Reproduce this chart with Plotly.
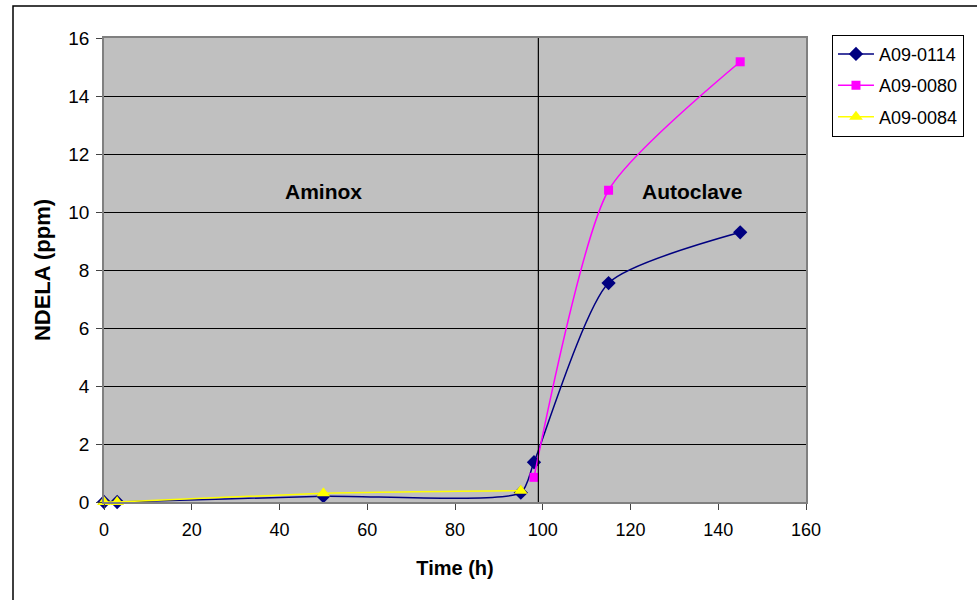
import plotly.graph_objects as go

# Sampling times (h) and NDELA concentrations (ppm) for each sample
time_0114 = [0, 3, 50, 95, 98, 115, 145]
ndela_0114 = [0.0, 0.0, 0.2, 0.32, 1.37, 7.55, 9.3]

time_0080 = [98, 115, 145]
ndela_0080 = [0.85, 10.75, 15.18]

time_0084 = [0, 3, 50, 95]
ndela_0084 = [0.0, 0.0, 0.3, 0.39]

series_names = ["A09-0114", "A09-0080", "A09-0084"]

# Switch from Aminox to Autoclave phase (h)
phase_switch = 99
phase_labels = ["Aminox", "Autoclave"]
phase_label_x = [50, 134]
phase_label_y = 10.7

x_ticks = [0, 20, 40, 60, 80, 100, 120, 140, 160]
y_ticks = [0, 2, 4, 6, 8, 10, 12, 14, 16]

FONT = "Liberation Sans, Arial, sans-serif"
SMOOTH = 0.6

fig = go.Figure()

fig.add_trace(go.Scatter(
    x=time_0114, y=ndela_0114, name=series_names[0], mode="lines+markers",
    legendgroup="a", cliponaxis=False,
    line=dict(color="#000080", width=1.5, shape="spline", smoothing=SMOOTH),
    marker=dict(symbol="diamond", size=11, color="#000080"),
))
fig.add_trace(go.Scatter(
    x=time_0080, y=ndela_0080, name=series_names[1], mode="lines+markers",
    legendgroup="b", cliponaxis=False,
    line=dict(color="#FF00FF", width=1.5, shape="spline", smoothing=SMOOTH),
    marker=dict(symbol="square", size=9, color="#FF00FF"),
))
fig.add_trace(go.Scatter(
    x=time_0084, y=ndela_0084, name=series_names[2], mode="lines+markers",
    legendgroup="c", cliponaxis=False,
    line=dict(color="#FFFF00", width=1.5, shape="spline", smoothing=SMOOTH),
    marker=dict(symbol="triangle-up", size=12, color="#FFFF00"),
))

# Vertical separator between the two phases
fig.add_shape(type="line", xref="x", yref="y", x0=phase_switch, x1=phase_switch,
              y0=0, y1=16, line=dict(color="black", width=1.2), layer="above")

# Outer chart frame
fig.add_shape(type="rect", xref="paper", yref="paper",
              x0=(13 - 104) / 702, x1=1.5, y0=-0.5, y1=(502 - 6) / 464,
              line=dict(color="black", width=1.5), layer="below")

for label, lx in zip(phase_labels, phase_label_x):
    fig.add_annotation(x=lx, y=phase_label_y, text=f"<b>{label}</b>", showarrow=False,
                       font=dict(family=FONT, size=21, color="black"),
                       xanchor="center", yanchor="middle")

fig.update_xaxes(
    range=[0, 160], tickvals=x_ticks, ticks="outside", ticklen=6, tickcolor="#444",
    ticklabelstandoff=5,
    showgrid=False, zeroline=False, showline=True, linecolor="#808080", linewidth=1.5,
    mirror=True, tickfont=dict(family=FONT, size=18, color="black"),
    title=dict(text="<b>Time (h)</b>", font=dict(family=FONT, size=20, color="black"), standoff=22),
)
fig.update_yaxes(
    range=[0, 16], tickvals=y_ticks, ticks="outside", ticklen=6, tickcolor="#444",
    ticklabelstandoff=3,
    showgrid=True, gridcolor="black", gridwidth=1, zeroline=False,
    showline=True, linecolor="#808080", linewidth=1.5, mirror=True,
    tickfont=dict(family=FONT, size=19, color="black"),
    title=dict(text="<b>NDELA (ppm)</b>", font=dict(family=FONT, size=22, color="black"), standoff=12),
)

fig.update_layout(
    width=977, height=600,
    margin=dict(l=104, r=171, t=38, b=98),
    paper_bgcolor="white", plot_bgcolor="#C0C0C0",
    font=dict(family=FONT, color="black"),
    showlegend=True,
    legend=dict(x=1.037, y=1.007, xanchor="left", yanchor="top",
                bgcolor="white", bordercolor="black", borderwidth=1,
                itemwidth=36, tracegroupgap=5,
                font=dict(family=FONT, size=18, color="black")),
)

fig.write_html("out.html")
